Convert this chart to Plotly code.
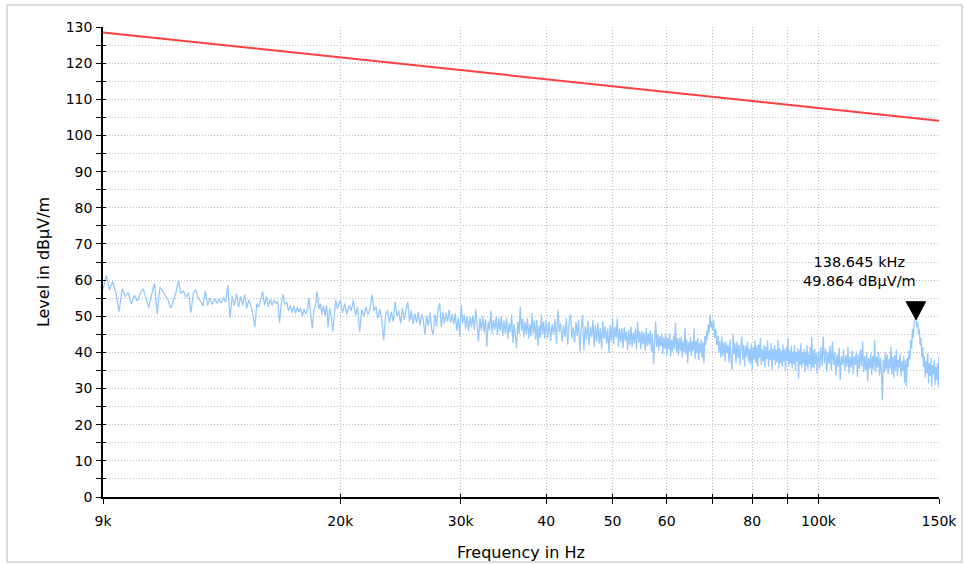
import numpy as np
import plotly.graph_objects as go

# ---- scan table (receiver sweep segments) ----
scan_start_khz = [9.0, 20.0, 40.0, 70.0, 100.0]
scan_step_khz = [0.1, 0.15, 0.2, 0.25, 0.4]

# measured level in dBuV/m, segment 1: 9.0 .. 19.9 kHz
level_seg1 = [
    57.5, 61.3, 57.3, 59.6, 56.5, 51.3, 57.6, 55.5, 56.5, 53.4,
    55.8, 54.2, 56.2, 57.6, 55.0, 52.4, 56.0, 59.1, 50.6, 58.0,
    57.0, 55.8, 54.5, 52.2, 54.0, 56.5, 60.0, 56.3, 57.0, 55.2,
    56.5, 51.0, 56.5, 57.3, 55.0, 54.2, 52.8, 57.0, 53.0, 55.0,
    53.2, 55.0, 53.5, 54.8, 53.6, 55.2, 53.8, 58.6, 49.5, 55.5,
    53.0, 56.2, 52.5, 55.5, 53.0, 56.0, 52.2, 54.5, 53.0, 50.5,
    47.0, 53.5, 52.5, 54.5, 56.9, 53.0, 55.4, 52.6, 54.8, 53.0,
    54.5, 53.5, 54.2, 48.2, 53.5, 56.1, 53.2, 53.8, 51.5, 53.0,
    51.0, 52.8, 50.8, 52.4, 51.2, 52.2, 50.0, 52.0, 50.5, 51.8,
    55.0, 51.0, 46.6, 51.5, 53.0, 56.8, 52.0, 53.5, 50.5, 52.8,
    50.2, 53.0, 47.0, 52.2, 50.0, 45.7, 51.5, 54.5, 52.0, 53.5,
]

# segment 2: 20.0 .. 39.95 kHz
level_seg2 = [
    54.5, 51.0, 53.5, 50.5, 53.0, 51.5, 54.5, 50.2, 52.5, 45.7,
    51.8, 50.0, 52.6, 50.5, 52.0, 55.9, 51.5, 52.6, 49.5, 52.0,
    49.0, 43.4, 50.5, 51.7, 48.2, 51.2, 48.5, 54.0, 50.0, 51.5,
    48.0, 52.2, 49.0, 51.8, 54.0, 48.5, 51.6, 47.8, 50.8, 48.2,
    51.2, 47.5, 50.5, 48.8, 44.8, 50.2, 47.3, 51.0, 46.5, 44.8,
    50.5, 47.2, 51.8, 53.6, 47.0, 51.3, 48.0, 51.0, 48.5, 51.8,
    48.2, 50.5, 47.8, 50.8, 46.0, 49.5, 44.4, 53.2, 48.0, 50.4,
    46.5, 50.0, 45.8, 49.8, 47.0, 50.2, 46.2, 52.0, 48.0, 43.0,
    49.5, 46.0, 50.0, 45.5, 49.2, 41.6, 48.5, 46.0, 51.5, 45.2,
    49.0, 46.3, 50.0, 44.9, 49.5, 46.0, 50.0, 44.5, 48.8, 45.2,
    49.6, 43.8, 48.0, 45.5, 50.5, 42.6, 47.8, 44.5, 41.2, 48.5,
    45.0, 52.7, 46.0, 49.2, 44.2, 48.5, 45.0, 49.5, 43.8, 47.8,
    44.5, 50.8, 45.2, 48.8, 43.5, 49.0, 41.8, 47.5, 44.0, 50.5,
    45.0, 48.5, 43.8, 47.8,
]

# segment 3: 40.0 .. 69.8 kHz
level_seg3 = [
    49.0, 44.0, 48.5, 43.2, 47.8, 44.8, 49.2, 42.5, 51.8, 45.5,
    48.0, 43.0, 47.5, 44.2, 49.5, 42.1, 48.2, 50.5, 44.0, 47.0,
    42.8, 48.5, 44.5, 49.0, 40.2, 46.5, 50.4, 40.5, 47.2, 43.5,
    48.8, 42.0, 47.0, 44.2, 49.0, 41.5, 47.5, 43.0, 48.2, 42.4,
    46.8, 41.0, 48.5, 43.8, 47.2, 42.5, 46.5, 39.8, 47.5, 43.0,
    49.5, 42.2, 47.0, 44.0, 49.4, 41.5, 46.5, 42.8, 46.7, 41.2,
    47.0, 43.2, 45.8, 40.7, 46.2, 42.0, 47.2, 41.5, 45.5, 42.5,
    46.5, 40.8, 48.5, 42.6, 45.8, 41.0, 46.0, 42.2, 45.5, 40.5,
    46.8, 41.8, 45.2, 42.0, 46.0, 40.2, 44.8, 36.8, 45.5, 48.5,
    41.5, 45.0, 40.5, 44.5, 41.8, 45.3, 39.5, 44.2, 41.0, 45.0,
    39.0, 44.0, 40.8, 45.2, 38.9, 43.5, 40.2, 44.6, 41.0, 48.1,
    40.0, 44.0, 39.2, 43.8, 40.5, 44.4, 38.5, 43.0, 40.0, 46.8,
    39.5, 43.5, 37.0, 42.8, 40.2, 44.2, 39.0, 43.0, 40.5, 46.5,
    38.2, 43.2, 39.8, 44.0, 37.9, 42.5, 40.0, 43.5, 38.5, 42.8,
    37.0, 44.5, 42.0, 46.0, 43.5, 47.8, 45.5, 50.4, 47.0, 48.5,
]

# segment 4: 70.0 .. 99.75 kHz
level_seg4 = [
    46.0, 49.0, 44.0, 46.5, 42.0, 44.5, 40.0, 43.2, 38.5, 44.4,
    39.0, 42.8, 37.5, 43.0, 39.8, 42.0, 37.2, 43.5, 38.0, 35.2,
    45.3, 39.5, 42.5, 37.0, 43.0, 38.5, 42.2, 36.5, 41.5, 44.4,
    38.0, 42.0, 36.2, 41.8, 38.8, 43.0, 37.5, 41.0, 36.8, 42.5,
    35.2, 41.5, 38.0, 43.2, 37.0, 41.8, 36.0, 42.2, 38.5, 44.0,
    36.5, 40.8, 37.5, 42.0, 35.8, 41.5, 38.2, 43.4, 36.0, 40.5,
    37.8, 42.6, 35.1, 41.0, 38.0, 42.0, 36.5, 40.8, 37.2, 43.5,
    35.5, 41.2, 37.0, 40.5, 36.0, 42.2, 37.5, 40.8, 35.0, 41.5,
    37.8, 43.9, 36.2, 40.5, 37.0, 41.8, 35.5, 40.2, 36.8, 42.0,
    35.0, 40.0, 37.5, 41.2, 32.8, 40.5, 36.5, 42.5, 35.8, 39.8,
    37.0, 41.0, 34.5, 40.2, 36.2, 42.0, 35.2, 39.5, 36.8, 41.5,
    34.8, 44.3, 36.0, 40.5, 35.5, 41.0, 36.8, 39.8, 34.2, 40.5,
]

# segment 5: 100.0 .. 150.0 kHz
level_seg5 = [
    40.5, 35.5, 41.5, 36.2, 44.3, 37.0, 41.0, 34.5, 40.2, 36.8,
    41.8, 35.0, 43.0, 36.5, 40.0, 33.7, 39.5, 36.0, 41.2, 32.4,
    39.0, 36.5, 40.8, 34.8, 39.2, 36.0, 41.5, 34.2, 38.8, 35.8,
    40.5, 34.0, 39.0, 36.5, 40.2, 33.3, 39.5, 35.5, 40.8, 36.2,
    43.0, 34.5, 39.0, 35.0, 40.0, 32.0, 38.5, 35.5, 39.8, 33.8,
    39.0, 35.2, 43.4, 34.5, 38.8, 35.8, 40.2, 33.5, 38.5, 35.0,
    26.8, 38.0, 34.5, 40.0, 35.2, 39.5, 33.8, 38.2, 35.5, 41.5,
    34.0, 38.8, 33.0, 39.2, 35.0, 40.7, 33.5, 38.0, 35.8, 39.7,
    33.3, 37.5, 34.8, 39.0, 31.5, 37.8, 30.5, 38.5, 36.0, 40.5,
    38.0, 43.5, 41.0, 46.5, 44.0, 48.5, 49.0, 49.864, 47.0, 48.5,
    45.0, 46.5, 42.0, 44.0, 38.5, 41.5, 36.0, 39.0, 33.0, 37.5,
    34.2, 39.8, 31.5, 37.0, 33.5, 38.5, 30.5, 36.5, 34.0, 38.0,
    31.0, 36.0, 32.5, 37.0, 30.5, 39.0,
]

level_segments = [level_seg1, level_seg2, level_seg3, level_seg4, level_seg5]

# limit line
limit_freq_hz = [9000, 150000]
limit_level = [128.5, 104.1]

# peak marker
marker_freq_hz = 138645
marker_level = 49.864

# axis ticks
x_tick_vals = [9000, 20000, 30000, 40000, 50000, 60000, 70000, 80000, 90000, 100000, 150000]
x_tick_text = ["9k", "20k", "30k", "40", "50", "60", "", "80", "", "100k", "150k"]
y_range = [0, 130]

# ---- build trace from scan table ----
freq_hz = []
level = []
for start, step, vals in zip(scan_start_khz, scan_step_khz, level_segments):
    freq_hz += [(start + step * i) * 1000.0 for i in range(len(vals))]
    level += vals

FONT = "DejaVu Sans, Liberation Sans, sans-serif"
GRID = "#bdbdbd"
GRID_DASH = "1px,2px"
x_range = [np.log10(limit_freq_hz[0]), np.log10(limit_freq_hz[-1])]

fig = go.Figure()
fig.add_trace(go.Scatter(x=freq_hz, y=level, mode="lines",
                         line=dict(color="#96c8fc", width=1.3), hoverinfo="skip"))
fig.add_trace(go.Scatter(x=limit_freq_hz, y=limit_level, mode="lines",
                         line=dict(color="#ff4040", width=2), hoverinfo="skip"))
# invisible trace on overlay axes (used only for the inner half of the tick marks)
fig.add_trace(go.Scatter(x=[limit_freq_hz[0]], y=[y_range[0]], xaxis="x2", yaxis="y2",
                         mode="markers", marker=dict(opacity=0), hoverinfo="skip"))

fig.update_layout(
    width=965, height=564,
    margin=dict(l=103, r=26, t=27, b=67, autoexpand=False),
    paper_bgcolor="white", plot_bgcolor="white",
    showlegend=False,
    font=dict(family=FONT, color="black"),
    xaxis=dict(
        type="log", automargin=False, range=x_range,
        tickmode="array", tickvals=x_tick_vals, ticktext=x_tick_text,
        showgrid=True, gridcolor=GRID, griddash=GRID_DASH, gridwidth=1,
        showline=True, linecolor="black", linewidth=1.5,
        ticks="outside", ticklen=5, tickcolor="black", tickwidth=1.2,
        tickfont=dict(family=FONT, size=14, color="black"),
        ticklabelstandoff=5, zeroline=False,
        title=dict(text="Frequency in Hz", font=dict(family=FONT, size=16, color="black"), standoff=19),
    ),
    yaxis=dict(
        automargin=False, range=y_range, tick0=0, dtick=10,
        showgrid=True, gridcolor=GRID, griddash=GRID_DASH, gridwidth=1,
        minor=dict(dtick=5, ticks="outside", ticklen=5, tickcolor="black", tickwidth=1.2,
                   showgrid=True, gridcolor=GRID, griddash=GRID_DASH, gridwidth=1),
        showline=True, linecolor="black", linewidth=1.5,
        ticks="outside", ticklen=5, tickcolor="black", tickwidth=1.2,
        tickfont=dict(family=FONT, size=14, color="black"),
        ticklabelstandoff=1, zeroline=False,
        title=dict(text="Level in dBµV/m", font=dict(family=FONT, size=16, color="black"), standoff=12),
    ),
    xaxis2=dict(type="log", overlaying="x", anchor="y2", side="bottom", range=x_range,
                tickmode="array", tickvals=x_tick_vals, showticklabels=False,
                ticks="inside", ticklen=3, tickcolor="black", tickwidth=1.2,
                showgrid=False, zeroline=False, showline=False, automargin=False),
    yaxis2=dict(overlaying="y", anchor="x2", side="left", range=y_range, tick0=0, dtick=10,
                showticklabels=False, ticks="inside", ticklen=3, tickcolor="black", tickwidth=1.2,
                minor=dict(dtick=5, ticks="inside", ticklen=3, tickcolor="black", tickwidth=1.2,
                           showgrid=False),
                showgrid=False, zeroline=False, showline=False, automargin=False),
)

# marker triangle (fixed pixel size, anchored to the peak)
fig.add_shape(type="path", xref="x", yref="y",
              xsizemode="pixel", ysizemode="pixel",
              xanchor=marker_freq_hz, yanchor=marker_level,
              path="M -9.5,15 L 10,15 L 0.5,-3 Z",
              fillcolor="black", line=dict(color="black", width=1))

fig.add_annotation(x=np.log10(marker_freq_hz), y=marker_level, xref="x", yref="y",
                   text=f"{marker_freq_hz/1000:.3f} kHz<br>{marker_level:.3f} dBµV/m",
                   showarrow=False, xanchor="center", yanchor="bottom",
                   xshift=-56, yshift=26,
                   font=dict(family=FONT, size=14.5, color="black"))

# outer frame
fig.add_shape(type="rect", xref="paper", yref="paper",
              x0=-96/836, x1=859/836, y0=-65/470, y1=492/470,
              line=dict(color="#b8b8b8", width=1), fillcolor="rgba(0,0,0,0)", layer="below")

fig.write_html("out.html",
               config={"displayModeBar": False},
               post_script="document.body.style.margin='0px';document.body.style.overflow='hidden';")
